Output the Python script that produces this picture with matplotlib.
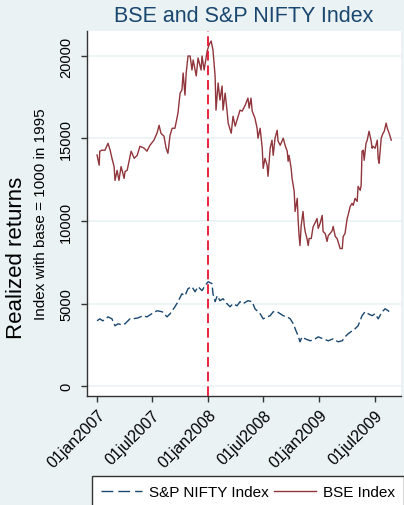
import numpy as np
import pandas as pd
import matplotlib
matplotlib.use("Agg")
import matplotlib.pyplot as plt
import matplotlib.dates as mdates
from matplotlib.lines import Line2D

# BSE index
bse_dates = [
    "2007-01-01", "2007-01-08", "2007-01-10", "2007-01-17", "2007-01-27", "2007-02-06", "2007-02-13",
    "2007-02-19", "2007-02-26", "2007-03-01", "2007-03-08", "2007-03-14", "2007-03-21", "2007-03-31",
    "2007-04-03", "2007-04-10", "2007-04-16", "2007-04-23", "2007-05-03", "2007-05-13", "2007-05-22",
    "2007-06-05", "2007-06-14", "2007-06-24", "2007-07-07", "2007-07-17", "2007-07-24", "2007-07-30",
    "2007-08-09", "2007-08-16", "2007-08-22", "2007-08-29", "2007-09-05", "2007-09-14", "2007-09-24",
    "2007-10-01", "2007-10-07", "2007-10-11", "2007-10-17", "2007-10-21", "2007-10-27", "2007-11-03",
    "2007-11-09", "2007-11-13", "2007-11-23", "2007-11-29", "2007-12-09", "2007-12-12", "2007-12-19",
    "2007-12-29", "2008-01-04", "2008-01-11", "2008-01-17", "2008-01-24", "2008-01-27", "2008-02-03",
    "2008-02-09", "2008-02-16", "2008-02-19", "2008-02-26", "2008-03-03", "2008-03-07", "2008-03-17",
    "2008-03-23", "2008-03-30", "2008-04-09", "2008-04-15", "2008-04-22", "2008-05-02", "2008-05-11",
    "2008-05-15", "2008-05-21", "2008-05-25", "2008-06-03", "2008-06-10", "2008-06-13", "2008-06-20",
    "2008-06-27", "2008-06-30", "2008-07-06", "2008-07-13", "2008-07-16", "2008-07-23", "2008-07-29",
    "2008-08-02", "2008-08-08", "2008-08-15", "2008-08-18", "2008-08-25", "2008-08-31", "2008-09-04",
    "2008-09-10", "2008-09-17", "2008-09-20", "2008-09-23", "2008-09-30", "2008-10-03", "2008-10-10",
    "2008-10-13", "2008-10-20", "2008-10-23", "2008-10-26", "2008-10-29", "2008-11-02", "2008-11-08",
    "2008-11-12", "2008-11-15", "2008-11-21", "2008-11-25", "2008-11-28", "2008-12-05", "2008-12-11",
    "2008-12-18", "2008-12-24", "2008-12-28", "2009-01-03", "2009-01-10", "2009-01-13", "2009-01-20",
    "2009-01-26", "2009-01-30", "2009-02-05", "2009-02-12", "2009-02-15", "2009-02-22", "2009-02-28",
    "2009-03-03", "2009-03-10", "2009-03-17", "2009-03-20", "2009-03-26", "2009-04-02", "2009-04-05",
    "2009-04-12", "2009-04-18", "2009-04-22", "2009-04-28", "2009-05-05", "2009-05-08", "2009-05-15",
    "2009-05-18", "2009-05-21", "2009-05-25", "2009-05-28", "2009-06-03", "2009-06-07", "2009-06-13",
    "2009-06-20", "2009-06-23", "2009-06-26", "2009-07-03", "2009-07-10", "2009-07-13", "2009-07-16",
    "2009-07-23", "2009-07-29", "2009-08-02", "2009-08-08", "2009-08-12", "2009-08-18", "2009-08-25",
]
bse_values = [
    14000, 13380, 14230, 14290, 14290, 14710, 14290,
    13800, 13300, 12460, 13070, 12460, 13300, 12580,
    13000, 13070, 13600, 14230, 13800, 13980, 14530,
    14410, 14230, 14590, 14900, 15320, 15800, 15320,
    15140, 14410, 14100, 15200, 15620, 15620, 16540,
    17750, 17940, 18970, 17630, 18970, 20000, 20000,
    19150, 19760, 18790, 19880, 19150, 20000, 19150,
    20310, 20670, 20910, 20370, 18790, 16720, 18360,
    17330, 18180, 16720, 17750, 16720, 15930, 15320,
    16350, 15750, 16350, 16720, 16660, 17020, 17450,
    16840, 17450, 16660, 16230, 15620, 15020, 15620,
    14410, 13190, 13800, 13370, 12710, 14410, 14900,
    13980, 15020, 15500, 14840, 14590, 14840, 15020,
    14590, 14230, 13620, 13980, 13190, 12580, 11790,
    10580, 11370, 10030, 9120, 8510, 9730, 10580,
    9730, 9360, 8940, 8510, 8940, 8940, 9640,
    9900, 10150, 9550, 9850, 10340, 9360, 9240,
    8760, 9120, 9240, 9420, 9670, 9060, 8940,
    8760, 8330, 8330, 9060, 9240, 10150, 10340,
    10880, 11070, 10950, 11370, 11190, 12100, 11860,
    12160, 14230, 14290, 13680, 14710, 14900, 15440,
    14840, 14410, 14530, 14410, 14900, 13800, 13500,
    15020, 15320, 15440, 15930, 15620, 15320, 14900,
]

# S&P NIFTY index
nifty_dates = [
    "2007-01-01", "2007-01-10", "2007-01-20", "2007-02-06", "2007-02-19", "2007-03-01", "2007-03-11",
    "2007-03-24", "2007-04-03", "2007-04-19", "2007-04-29", "2007-05-16", "2007-06-01", "2007-06-14",
    "2007-06-30", "2007-07-17", "2007-08-03", "2007-08-19", "2007-08-29", "2007-09-14", "2007-09-24",
    "2007-10-07", "2007-10-17", "2007-10-27", "2007-11-09", "2007-11-19", "2007-11-29", "2007-12-12",
    "2007-12-22", "2008-01-01", "2008-01-14", "2008-01-17", "2008-01-24", "2008-01-31", "2008-02-09",
    "2008-02-19", "2008-03-03", "2008-03-13", "2008-03-23", "2008-04-05", "2008-04-15", "2008-04-25",
    "2008-05-11", "2008-05-25", "2008-06-03", "2008-06-20", "2008-06-30", "2008-07-13", "2008-07-23",
    "2008-08-02", "2008-08-15", "2008-08-25", "2008-09-04", "2008-09-17", "2008-09-27", "2008-10-07",
    "2008-10-16", "2008-10-23", "2008-10-29", "2008-11-05", "2008-11-15", "2008-12-02", "2008-12-18",
    "2008-12-28", "2009-01-13", "2009-01-30", "2009-02-15", "2009-03-03", "2009-03-17", "2009-03-26",
    "2009-04-05", "2009-04-18", "2009-04-28", "2009-05-08", "2009-05-21", "2009-05-31", "2009-06-10",
    "2009-06-23", "2009-07-03", "2009-07-13", "2009-07-26", "2009-08-05", "2009-08-15", "2009-08-25",
]
nifty_values = [
    3950, 4070, 3950, 4190, 4070, 3650, 3770,
    3710, 3770, 4070, 4070, 4130, 4260, 4190,
    4380, 4560, 4500, 4190, 4380, 4800, 5110,
    5590, 5470, 5900, 6020, 5710, 6020, 5780,
    6080, 6320, 6200, 5590, 5110, 5470, 5170,
    5290, 4990, 4800, 4990, 4860, 5110, 4990,
    5170, 5110, 4680, 4380, 4070, 4190, 4260,
    4500, 4500, 4380, 4260, 4190, 4070, 3770,
    3340, 3040, 2680, 2980, 2860, 2740, 2860,
    2980, 2860, 2740, 2860, 2680, 2740, 2980,
    3160, 3340, 3470, 3650, 4260, 4500, 4380,
    4260, 4380, 4070, 4500, 4680, 4560, 4380,
]

tick_dates = ["2007-01-01", "2007-07-01", "2008-01-01", "2008-07-01", "2009-01-01", "2009-07-01"]
tick_labels = ["01jan2007", "01jul2007", "01jan2008", "01jul2008", "01jan2009", "01jul2009"]
y_ticks = [0, 5000, 10000, 15000, 20000]
event_date = "2008-01-01"

navy = "#1a476f"
maroon = "#90353b"
bg = "#eaf2f3"

plt.rcParams["font.family"] = ["Liberation Sans", "DejaVu Sans"]
plt.rcParams["lines.scale_dashes"] = False

fig = plt.figure(figsize=(4.04, 5.06), dpi=100, facecolor=bg)
ax = fig.add_axes([87 / 404, 109 / 506, 314 / 404, 365 / 506])
ax.set_facecolor("white")

ax.plot(pd.to_datetime(nifty_dates), nifty_values, color=navy, lw=1.0, dashes=(6, 2.5))
ax.plot(pd.to_datetime(bse_dates), bse_values, color=maroon, lw=1.0)
ax.axvline(pd.Timestamp(event_date), color="#e8112d", lw=1.3, dashes=(7, 3.5), zorder=3)

ax.set_ylim(-606, 21515)
ax.set_xlim(pd.Timestamp("2006-11-29"), pd.Timestamp("2009-09-26"))

ax.set_yticks(y_ticks)
ax.set_yticklabels([str(v) for v in y_ticks], rotation=90, va="center")
ax.set_xticks(pd.to_datetime(tick_dates))
ax.set_xticklabels(tick_labels, rotation=45, ha="right", va="top", rotation_mode="anchor")
ax.tick_params(axis="both", length=4, width=1, color="#333333")
ax.tick_params(axis="y", labelsize=10.5, pad=6)
ax.tick_params(axis="x", labelsize=11.5, pad=4)

ax.yaxis.grid(True, color=bg, lw=1.2)
ax.set_axisbelow(True)
for side in ["top", "right"]:
    ax.spines[side].set_visible(False)
for side in ["left", "bottom"]:
    ax.spines[side].set_color("#333333")
    ax.spines[side].set_linewidth(1.0)

fig.text(243.5 / 404, 1 - 17 / 506, "BSE and S&P NIFTY Index", ha="center", va="center",
         fontsize=15.5, color=navy)
fig.text(41 / 404, 1 - 214 / 506, "Index with base = 1000 in 1995", rotation=90,
         ha="center", va="center", fontsize=11)
fig.text(17 / 404, 1 - 258 / 506, "Realized returns", rotation=90,
         ha="center", va="center", fontsize=16)

handles = [
    Line2D([], [], color=navy, lw=1.0, dashes=(8.5, 3.6)),
    Line2D([], [], color=maroon, lw=1.0),
]
fig.legend(handles, ["S&P NIFTY Index", "BSE Index"], loc="upper left",
           bbox_to_anchor=(92 / 404, 29 / 506), ncol=2, fontsize=11, frameon=True,
           fancybox=False, edgecolor="#333333", framealpha=1, handlelength=2.7,
           handletextpad=0.45, columnspacing=0.35, borderpad=0.6, borderaxespad=0)

fig.savefig("out.png", dpi=100, facecolor=bg)
